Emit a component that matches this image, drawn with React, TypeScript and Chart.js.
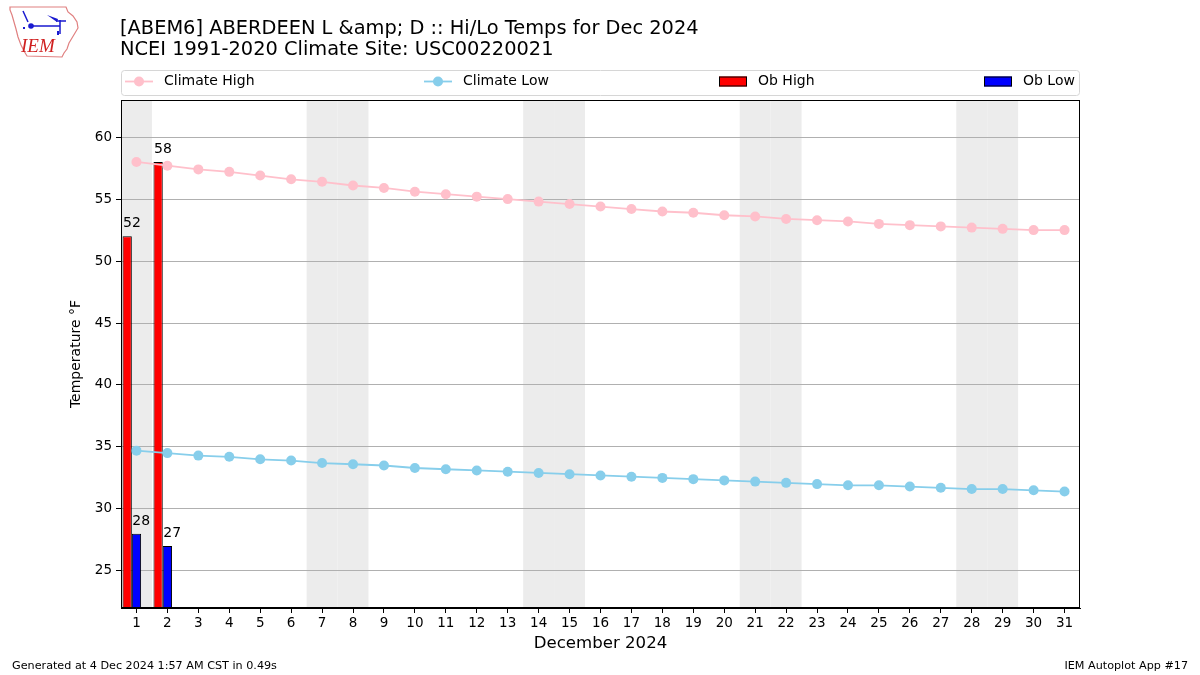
import React, { useEffect, useRef } from "react";
import { Chart, registerables } from "chart.js";

Chart.register(...registerables);

const dayLabels = [
  "1", "2", "3", "4", "5", "6", "7", "8", "9", "10", "11", "12", "13", "14", "15", "16",
  "17", "18", "19", "20", "21", "22", "23", "24", "25", "26", "27", "28", "29", "30", "31",
];
const climateHigh = [
  58.0, 57.7, 57.4, 57.2, 56.9, 56.6, 56.4, 56.1, 55.9, 55.6, 55.4, 55.2, 55.0, 54.8, 54.6, 54.4,
  54.2, 54.0, 53.9, 53.7, 53.6, 53.4, 53.3, 53.2, 53.0, 52.9, 52.8, 52.7, 52.6, 52.5, 52.5,
];
const climateLow = [
  34.7, 34.5, 34.3, 34.2, 34.0, 33.9, 33.7, 33.6, 33.5, 33.3, 33.2, 33.1, 33.0, 32.9, 32.8, 32.7,
  32.6, 32.5, 32.4, 32.3, 32.2, 32.1, 32.0, 31.9, 31.9, 31.8, 31.7, 31.6, 31.6, 31.5, 31.4,
];
const obHigh: (number | null)[] = [52, 58];
const obLow: (number | null)[] = [28, 27];
const weekendDays = [1, 7, 8, 14, 15, 21, 22, 28, 29];

const titleLines = [
  "[ABEM6] ABERDEEN L &amp; D :: Hi/Lo Temps for Dec 2024",
  "NCEI 1991-2020 Climate Site: USC00220021",
];
const xTitle = "December 2024";
const yTitle = "Temperature °F";
const footerLeft = "Generated at 4 Dec 2024 1:57 AM CST in 0.49s";
const footerRight = "IEM Autoplot App #17";

const FONT = "'DejaVu Sans', sans-serif";

const pad = (arr: (number | null)[]) => dayLabels.map((_, i) => (i < arr.length ? arr[i] : null));

function drawLogo(ctx: CanvasRenderingContext2D) {
  ctx.save();
  ctx.strokeStyle = "#e08080";
  ctx.lineWidth = 1.2;
  ctx.beginPath();
  const pts = [
    [10, 7], [66, 7], [68, 12], [73, 16], [77, 22], [78, 28], [75, 33], [72, 38],
    [69, 43], [67, 49], [64, 53], [62, 57], [27, 56], [24, 51], [21, 45], [18, 37],
    [16, 29], [14, 22], [12, 15], [10, 10],
  ];
  pts.forEach(([x, y], i) => (i === 0 ? ctx.moveTo(x, y) : ctx.lineTo(x, y)));
  ctx.closePath();
  ctx.stroke();
  ctx.strokeStyle = "#1a1ad0";
  ctx.fillStyle = "#1a1ad0";
  ctx.lineWidth = 1.5;
  ctx.beginPath();
  ctx.moveTo(31, 26);
  ctx.lineTo(60, 26);
  ctx.moveTo(60, 20);
  ctx.lineTo(60, 34);
  ctx.moveTo(23, 11);
  ctx.lineTo(28, 22);
  ctx.moveTo(56, 21);
  ctx.lineTo(66, 21);
  ctx.stroke();
  ctx.beginPath();
  ctx.moveTo(47, 15);
  ctx.lineTo(58, 19);
  ctx.lineTo(57, 22);
  ctx.closePath();
  ctx.fill();
  ctx.beginPath();
  ctx.arc(31, 26, 2.8, 0, Math.PI * 2);
  ctx.fill();
  ctx.fillRect(23, 27, 2, 2);
  ctx.fillRect(57, 31, 2, 4);
  ctx.fillStyle = "#d02020";
  ctx.font = "italic 19px 'Liberation Serif', serif";
  ctx.textBaseline = "alphabetic";
  ctx.textAlign = "left";
  ctx.fillText("IEM", 21, 52);
  ctx.restore();
}

const decorPlugin = {
  id: "decor",
  beforeDraw(chart: any) {
    const { ctx, chartArea } = chart;
    const x = chart.scales.x;
    const half = (x.getPixelForValue(1) - x.getPixelForValue(0)) / 2;
    ctx.save();
    ctx.fillStyle = "#ececec";
    weekendDays.forEach((d) => {
      const c = x.getPixelForValue(d - 1);
      const l = Math.max(chartArea.left, c - half);
      const r = Math.min(chartArea.right, c + half);
      ctx.fillRect(l, chartArea.top, r - l, chartArea.bottom - chartArea.top);
    });
    ctx.restore();
  },
  afterDatasetsDraw(chart: any) {
    const { ctx } = chart;
    ctx.save();
    ctx.fillStyle = "#000";
    ctx.font = `14px ${FONT}`;
    ctx.textAlign = "left";
    ctx.textBaseline = "alphabetic";
    [2, 3].forEach((di) => {
      const meta = chart.getDatasetMeta(di);
      const data = chart.data.datasets[di].data;
      meta.data.forEach((el: any, i: number) => {
        const v = data[i];
        if (v === null || v === undefined) return;
        const left = el.x - el.width / 2;
        ctx.fillText(String(v), left + 0.5, el.y - 9);
      });
    });
    ctx.restore();
  },
  afterDraw(chart: any) {
    const { ctx, chartArea } = chart;
    ctx.save();
    // frame
    ctx.strokeStyle = "#000";
    ctx.lineWidth = 1;
    ctx.strokeRect(
      Math.round(chartArea.left) + 0.5,
      Math.round(chartArea.top) + 0.5,
      Math.round(chartArea.right - chartArea.left) - 1,
      Math.round(chartArea.bottom - chartArea.top) - 1
    );

    // titles
    ctx.fillStyle = "#000";
    ctx.textAlign = "left";
    ctx.textBaseline = "middle";
    ctx.font = `19.4px ${FONT}`;
    ctx.fillText(titleLines[0], 120, 29);
    ctx.fillText(titleLines[1], 120, 50);

    // axis titles
    ctx.textAlign = "center";
    ctx.font = `16.6px ${FONT}`;
    ctx.fillText(xTitle, (chartArea.left + chartArea.right) / 2, 644);
    ctx.save();
    ctx.translate(76, (chartArea.top + chartArea.bottom) / 2);
    ctx.rotate(-Math.PI / 2);
    ctx.font = `14px ${FONT}`;
    ctx.fillText(yTitle, 0, 0);
    ctx.restore();

    // footers
    ctx.font = `11.2px ${FONT}`;
    ctx.textAlign = "left";
    ctx.fillText(footerLeft, 12, 666);
    ctx.textAlign = "right";
    ctx.fillText(footerRight, 1188, 666);

    // legend
    const lx = chartArea.left;
    const lw = chartArea.right - chartArea.left;
    ctx.beginPath();
    ctx.roundRect(lx + 0.5, 70.5, lw - 1, 25, 3);
    ctx.fillStyle = "rgba(255,255,255,0.8)";
    ctx.fill();
    ctx.strokeStyle = "#d6d6d6";
    ctx.stroke();
    const ly = 81.5;
    const items = [
      { kind: "line", color: "#ffc0cb", label: "Climate High", x: 125 },
      { kind: "line", color: "#87ceeb", label: "Climate Low", x: 424 },
      { kind: "box", color: "#ff0000", label: "Ob High", x: 719 },
      { kind: "box", color: "#0000ff", label: "Ob Low", x: 984 },
    ];
    ctx.font = `14px ${FONT}`;
    ctx.textAlign = "left";
    ctx.textBaseline = "middle";
    items.forEach((it) => {
      if (it.kind === "line") {
        ctx.strokeStyle = it.color;
        ctx.lineWidth = 1.8;
        ctx.beginPath();
        ctx.moveTo(it.x, ly);
        ctx.lineTo(it.x + 28, ly);
        ctx.stroke();
        ctx.fillStyle = it.color;
        ctx.beginPath();
        ctx.arc(it.x + 14, ly, 5, 0, Math.PI * 2);
        ctx.fill();
      } else {
        ctx.fillStyle = it.color;
        ctx.fillRect(it.x, ly - 5, 28, 10);
        ctx.strokeStyle = "#000";
        ctx.lineWidth = 1;
        ctx.strokeRect(it.x + 0.5, ly - 4.5, 27, 9);
      }
      ctx.fillStyle = "#000";
      ctx.fillText(it.label, it.x + 39, ly);
    });

    drawLogo(ctx);
    ctx.restore();
  },
};

export default function App() {
  const canvasRef = useRef<HTMLCanvasElement | null>(null);

  useEffect(() => {
    const canvas = canvasRef.current;
    if (!canvas) return;
    const chart = new Chart(canvas, {
      type: "bar",
      data: {
        labels: dayLabels,
        datasets: [
          {
            type: "line",
            label: "Climate High",
            data: climateHigh,
            borderColor: "#ffc0cb",
            backgroundColor: "#ffc0cb",
            borderWidth: 1.8,
            pointRadius: 5,
            pointBorderWidth: 0,
            pointBackgroundColor: "#ffc0cb",
            tension: 0,
          } as any,
          {
            type: "line",
            label: "Climate Low",
            data: climateLow,
            borderColor: "#87ceeb",
            backgroundColor: "#87ceeb",
            borderWidth: 1.8,
            pointRadius: 5,
            pointBorderWidth: 0,
            pointBackgroundColor: "#87ceeb",
            tension: 0,
          } as any,
          {
            type: "bar",
            label: "Ob High",
            data: pad(obHigh),
            backgroundColor: "#ff0000",
            borderColor: "#000000",
            borderWidth: 1,
            borderSkipped: false,
            categoryPercentage: 0.9,
            barPercentage: 1.0,
          },
          {
            type: "bar",
            label: "Ob Low",
            data: pad(obLow),
            backgroundColor: "#0000ff",
            borderColor: "#000000",
            borderWidth: 1,
            borderSkipped: false,
            categoryPercentage: 0.9,
            barPercentage: 1.0,
          },
          {
            type: "bar",
            label: "",
            data: dayLabels.map(() => null),
            backgroundColor: "rgba(0,0,0,0)",
            categoryPercentage: 0.9,
            barPercentage: 1.0,
          },
        ],
      },
      options: {
        responsive: false,
        animation: false,
        maintainAspectRatio: false,
        layout: { padding: { left: 0, right: 120, top: 100, bottom: 27 } },
        plugins: {
          legend: { display: false },
          title: { display: false },
          tooltip: { enabled: false },
        },
        scales: {
          x: {
            type: "category",
            offset: true,
            afterFit: (s: any) => {
              s.height = 40;
            },
            grid: {
              display: true,
              drawOnChartArea: false,
              offset: false,
              tickLength: 5,
              tickColor: "#000",
            },
            border: { display: true, color: "#000" },
            ticks: {
              color: "#000",
              font: { family: "DejaVu Sans", size: 13.5 },
              padding: 2,
              maxRotation: 0,
              autoSkip: false,
            },
          },
          y: {
            type: "linear",
            min: 22,
            max: 63,
            afterFit: (s: any) => {
              s.width = 121;
            },
            grid: {
              color: "#b0b0b0",
              lineWidth: 1,
              tickLength: 5,
              tickColor: "#000",
            },
            border: { display: true, color: "#000" },
            ticks: {
              stepSize: 5,
              includeBounds: false,
              color: "#000",
              font: { family: "DejaVu Sans", size: 13.5 },
              padding: 4,
            },
          },
        },
      },
      plugins: [decorPlugin],
    });
    return () => chart.destroy();
  }, []);

  return (
    <div style={{ position: "fixed", left: 0, top: 0, width: 1200, height: 675, background: "#fff" }}>
      <canvas ref={canvasRef} width={1200} height={675} style={{ width: 1200, height: 675 }} />
    </div>
  );
}
